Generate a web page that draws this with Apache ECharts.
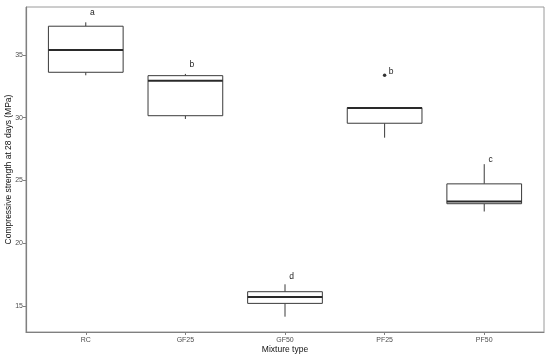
<!DOCTYPE html>
<html>
<head>
<meta charset="utf-8">
<script src="https://cdn.jsdelivr.net/npm/echarts@6/dist/echarts.min.js"></script>
<style>
html,body{margin:0;padding:0;background:#fff;}
#chart{width:550px;height:359px;}
</style>
</head>
<body>
<div id="chart"></div>
<script>
// Data
var categories = ['RC', 'GF25', 'GF50', 'PF25', 'PF50'];
var whiskerLow = [33.38, 29.90, 14.15, 28.41, 22.53];
var q1 = [33.62, 30.16, 15.21, 29.56, 23.15];
var median = [35.40, 32.95, 15.72, 30.78, 23.33];
var q3 = [37.29, 33.35, 16.14, 30.80, 24.73];
var whiskerHigh = [37.60, 33.49, 16.73, 30.80, 26.30];
var outliers = [[4, 33.38]]; // [category number (1-based), value]
var letters = ['a', 'b', 'd', 'b', 'c'];
var letterY = [38.35, 34.20, 17.33, 33.65, 26.67];
var yTicks = [15, 20, 25, 30, 35];
var xTitle = 'Mixture type';
var yTitle = 'Compressive strength at 28 days (MPa)';

var boxData = categories.map(function (c, i) {
  return [i + 1, whiskerLow[i], q1[i], median[i], q3[i], whiskerHigh[i]];
});
var letterData = categories.map(function (c, i) {
  return [i + 1, letterY[i], letters[i]];
});

var chart = echarts.init(document.getElementById('chart'), null, {renderer: 'canvas'});
var FONT = '"Liberation Sans", Arial, sans-serif';
var BOX_W = 0.75;
var LINE = '#3a3a3a';

chart.setOption({
  backgroundColor: '#ffffff',
  animation: false,
  grid: {left: 26, right: 6, top: 7, bottom: 27, show: true, borderColor: '#9a9a9a', borderWidth: 1,
    backgroundColor: '#ffffff', containLabel: false, outerBoundsMode: 'none'},
  graphic: [
    {type: 'text', x: 285, y: 350, style: {text: xTitle, fontFamily: FONT, fontSize: 8.5, fill: '#111',
      align: 'center', verticalAlign: 'middle'}},
    {type: 'text', x: 8.5, y: 169.5, rotation: Math.PI / 2, style: {text: yTitle, fontFamily: FONT, fontSize: 8.5, fill: '#111',
      align: 'center', verticalAlign: 'middle'}}
  ],
  xAxis: {
    type: 'value', min: 0.4, max: 5.6,
    axisLine: {show: true, lineStyle: {color: '#808080', width: 1.2}},
    axisTick: {show: true, length: 3, lineStyle: {color: '#808080'}, customValues: [1, 2, 3, 4, 5]},
    axisLabel: {fontFamily: FONT, fontSize: 7, color: '#4d4d4d', margin: 5,
      customValues: [1, 2, 3, 4, 5],
      formatter: function (v) { return categories[Math.round(v) - 1] || ''; }},
    splitLine: {show: false}
  },
  yAxis: {
    type: 'value', min: 12.93, max: 38.82,
    axisLine: {show: true, lineStyle: {color: '#808080', width: 1.2}},
    axisTick: {show: true, length: 3, lineStyle: {color: '#808080'}, customValues: yTicks},
    axisLabel: {fontFamily: FONT, fontSize: 7, color: '#4d4d4d', margin: 3, customValues: yTicks},
    splitLine: {show: false}
  },
  series: [
    {
      type: 'custom',
      data: boxData,
      renderItem: function (params, api) {
        var x = api.value(0);
        var lo = api.coord([x, api.value(1)]);
        var b1 = api.coord([x, api.value(2)]);
        var md = api.coord([x, api.value(3)]);
        var b3 = api.coord([x, api.value(4)]);
        var hi = api.coord([x, api.value(5)]);
        var hw = api.size([BOX_W, 0])[0] / 2;
        var cx = lo[0];
        return {
          type: 'group',
          children: [
            {type: 'line', shape: {x1: cx, y1: lo[1], x2: cx, y2: b1[1]}, style: {stroke: LINE, lineWidth: 1}},
            {type: 'line', shape: {x1: cx, y1: b3[1], x2: cx, y2: hi[1]}, style: {stroke: LINE, lineWidth: 1}},
            {type: 'rect', shape: {x: cx - hw, y: b3[1], width: hw * 2, height: b1[1] - b3[1]},
              style: {fill: '#ffffff', stroke: LINE, lineWidth: 1}},
            {type: 'line', shape: {x1: cx - hw, y1: md[1], x2: cx + hw, y2: md[1]}, style: {stroke: '#2a2a2a', lineWidth: 2}}
          ]
        };
      },
      z: 2
    },
    {
      type: 'scatter',
      data: outliers,
      symbolSize: 3.5,
      itemStyle: {color: '#000000'},
      z: 3
    },
    {
      type: 'custom',
      data: letterData,
      renderItem: function (params, api) {
        var p = api.coord([api.value(0), api.value(1)]);
        return {
          type: 'text',
          x: p[0] + 6.5, y: p[1],
          style: {text: letters[params.dataIndex], fontFamily: FONT, fontSize: 8.5, fill: '#222',
            align: 'center', verticalAlign: 'middle'}
        };
      },
      z: 4
    }
  ]
});
</script>
</body>
</html>
